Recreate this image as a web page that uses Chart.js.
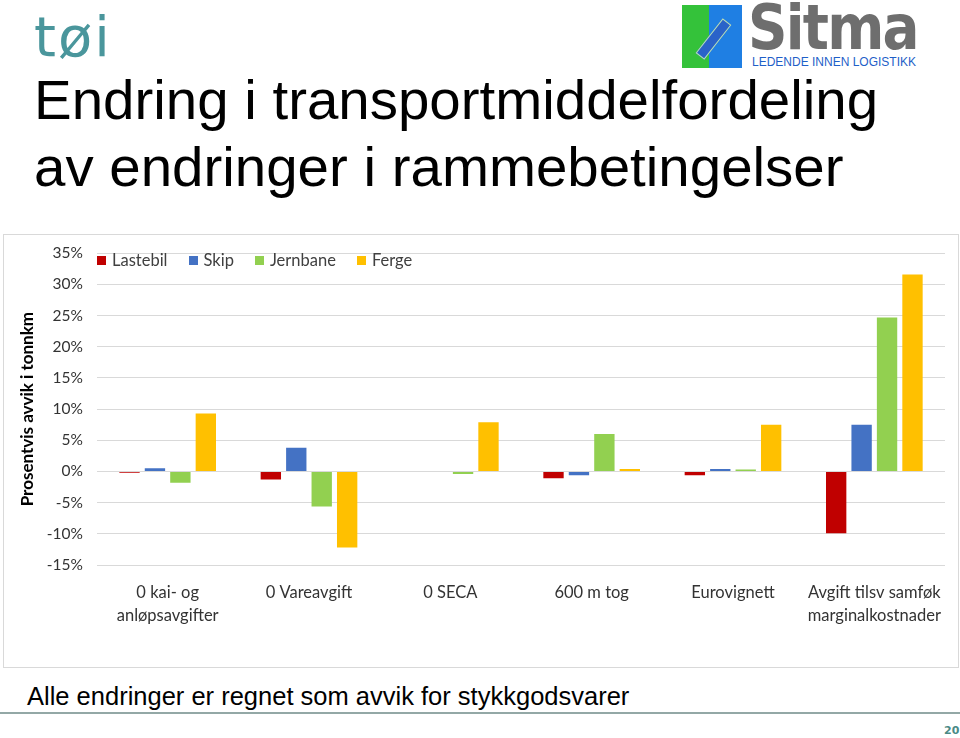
<!DOCTYPE html>
<html>
<head>
<meta charset="utf-8">
<script src="https://cdn.jsdelivr.net/npm/chart.js@4"></script>
<style>
  body { margin: 0; width: 960px; height: 738px; position: relative; background: #fff; overflow: hidden; font-family: "Liberation Sans", Arial, sans-serif; }
  .abs { position: absolute; }
  #toi { left: 34px; top: 4px; font-family: "DejaVu Sans", sans-serif; font-size: 56px; color: #4a969c; letter-spacing: 2px; }
  #sitmaBox { left: 682px; top: 5px; width: 60px; height: 63px; background: linear-gradient(90deg, #34c23a 0 45%, #1f7fe3 45% 100%); overflow: hidden; }
  #arrow { left: 26px; top: 12px; width: 9px; height: 42px; background: #2a63c9; border: 1px solid #b8e0b8; transform: rotate(38deg); }
  #sitma { left: 748px; top: -9px; font-family: "DejaVu Sans", sans-serif; font-weight: bold; font-size: 63px; color: #6e6e6e; letter-spacing: -2px; transform: scaleX(0.87); transform-origin: left; }
  #sitmaSub { left: 752px; top: 55px; font-family: "Liberation Sans Narrow", "Liberation Sans", sans-serif; font-size: 12px; color: #1f5fc8; }
  .title { left: 34px; font-size: 56px; color: #000; white-space: nowrap; transform-origin: left; transform: scaleX(1.008); }
  #t1 { top: 67px; }
  #t2 { top: 134px; }
  #box { left: 3px; top: 234px; width: 954px; height: 432px; border: 1px solid #d9d9d9; }
  #chartWrap { left: 3px; top: 230px; width: 955px; height: 437px; }
  #legend { left: 97px; top: 250px; display: flex; gap: 21px; font-family: Lato, sans-serif; font-size: 16.5px; color: #404040; }
  #legend span.sq { display: inline-block; width: 9px; height: 9px; margin-right: 6px; vertical-align: 1px; }
  #sub { left: 27px; top: 682px; font-size: 25.5px; color: #000; white-space: nowrap; }
  #rule { left: 0; top: 712px; width: 960px; height: 2px; background: #93a8a6; }
  #page { left: 944px; top: 724px; font-family: "DejaVu Sans", sans-serif; font-weight: bold; font-size: 11px; color: #4a8a86; }
</style>
</head>
<body>
<div id="toi" class="abs">tøi</div>
<div id="sitmaBox" class="abs"><div id="arrow" class="abs"></div></div>
<div id="sitma" class="abs">Sitma</div>
<div id="sitmaSub" class="abs">LEDENDE INNEN LOGISTIKK</div>
<div id="t1" class="abs title">Endring i transportmiddelfordeling</div>
<div id="t2" class="abs title">av endringer i rammebetingelser</div>
<div id="box" class="abs"></div>
<div id="chartWrap" class="abs"><canvas id="chart" width="955" height="437"></canvas></div>
<div id="legend" class="abs"></div>
<div id="sub" class="abs">Alle endringer er regnet som avvik for stykkgodsvarer</div>
<div id="rule" class="abs"></div>
<div id="page" class="abs">20</div>
<script>
// --- DATA (percent deviation in tonne-km) ---
const categories = [
  ['0 kai- og', 'anløpsavgifter'],
  '0 Vareavgift',
  '0 SECA',
  '600 m tog',
  'Eurovignett',
  ['Avgift tilsv samføk', 'marginalkostnader']
];
const seriesNames = ['Lastebil', 'Skip', 'Jernbane', 'Ferge'];
const lastebil = [-0.2, -1.3, 0, -1.1, -0.6, -9.9];
const skip = [0.5, 3.8, 0, -0.6, 0.4, 7.5];
const jernbane = [-1.8, -5.6, -0.4, 6.0, 0.3, 24.7];
const ferge = [9.3, -12.2, 7.9, 0.4, 7.5, 31.6];
const yTicks = [-15, -10, -5, 0, 5, 10, 15, 20, 25, 30, 35];
const colors = ['#c00000', '#4472c4', '#92d050', '#ffc000'];

const seriesData = [lastebil, skip, jernbane, ferge];

// --- LEGEND ---
const legendElem = document.getElementById('legend');
seriesNames.forEach((name, i) => {
  legendElem.innerHTML += `<div><span class="sq" style="background:${colors[i]}"></span>${name}</div>`;
});

// --- CHART ---
const FONT = 'Lato, sans-serif';
new Chart(document.getElementById('chart').getContext('2d'), {
  type: 'bar',
  data: {
    labels: categories,
    datasets: seriesNames.map((name, i) => ({
      label: name,
      data: seriesData[i],
      backgroundColor: colors[i],
      barPercentage: 0.8,
      categoryPercentage: 0.72
    }))
  },
  options: {
    responsive: false,
    animation: false,
    layout: { padding: { top: 12, right: 13, left: 0, bottom: 0 } },
    plugins: { legend: { display: false }, tooltip: { enabled: false } },
    scales: {
      x: {
        grid: { display: false },
        border: { display: false },
        ticks: { color: '#333', font: { family: FONT, size: 16.5, lineHeight: 1.35 }, padding: 9, maxRotation: 0, autoSkip: false },
        afterFit: scale => { scale.height = 102; }
      },
      y: {
        min: yTicks[0],
        max: yTicks[yTicks.length - 1],
        afterBuildTicks: scale => { scale.ticks = yTicks.map(v => ({ value: v })); },
        grid: { color: '#d9d9d9', drawTicks: false },
        border: { display: false },
        ticks: { color: '#333', font: { family: FONT, size: 15.5 }, padding: 14, callback: v => v + '%' },
        title: { display: true, text: 'Prosentvis avvik i tonnkm', color: '#000', font: { family: FONT, size: 17, weight: 'bold' }, padding: { top: 14, bottom: 0 } },
        afterFit: scale => { scale.width = 94; }
      }
    }
  }
});
</script>
</body>
</html>
